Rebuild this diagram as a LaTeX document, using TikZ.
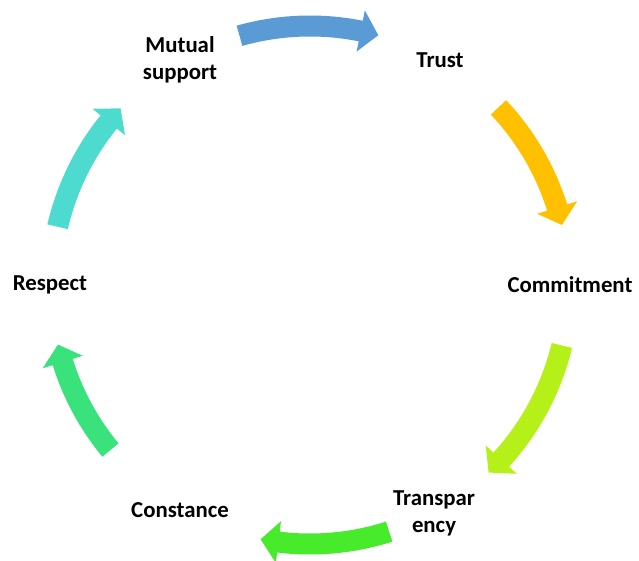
\documentclass[tikz,border=0pt]{standalone}
\usepackage{fontspec}
\setmainfont{Carlito}
\usetikzlibrary{positioning}

\definecolor{arrblue}{HTML}{5B9BD5}
\definecolor{arrgold}{HTML}{FFC000}
\definecolor{arrlime}{HTML}{B5F018}
\definecolor{arrgreen}{HTML}{48EB2C}
\definecolor{arrsea}{HTML}{3AE27C}
\definecolor{arrcyan}{HTML}{4DDBD0}

\begin{document}
\begin{tikzpicture}
    [x=1pt,y=1pt,
     lbl/.style={font=\bfseries\fontsize{22.8}{27.4}\selectfont,align=center,inner sep=0pt}]
    \useasboundingbox (-310,-276) rectangle (329,285);
    \node [lbl] (mutual) at (120:260) {Mutual\\support};
    \node [lbl] (trust) at (60:260) {Trust};
    \node [lbl] (commit) at (0:260) {Commitment};
    \node [lbl] (transp) at (-61.5:260) {Transpar\\ency};
    \node [lbl] (const) at (-120:260) {Constance};
    \node [lbl] (respect) at (180:260) {Respect};
    % curved block arrows, tail angle / tip angle / colour
    \foreach \from/\to/\col in {105.8/74.7/arrblue, 43.3/13.4/arrgold,
        -13.5/-46.4/arrlime, -72.2/-101/arrgreen,
        -140.4/-166.7/arrsea, 167/137/arrcyan}{
      \pgfmathsetmacro\base{\to+4}
      \fill [\col] (\from:248.5) arc [start angle=\from, end angle=\base, radius=248.5]
        -- (\base:238) -- (\to:259) -- (\base:280) -- (\base:269.5)
        arc [start angle=\base, end angle=\from, radius=269.5] -- cycle;
    }
\end{tikzpicture}
\end{document}
